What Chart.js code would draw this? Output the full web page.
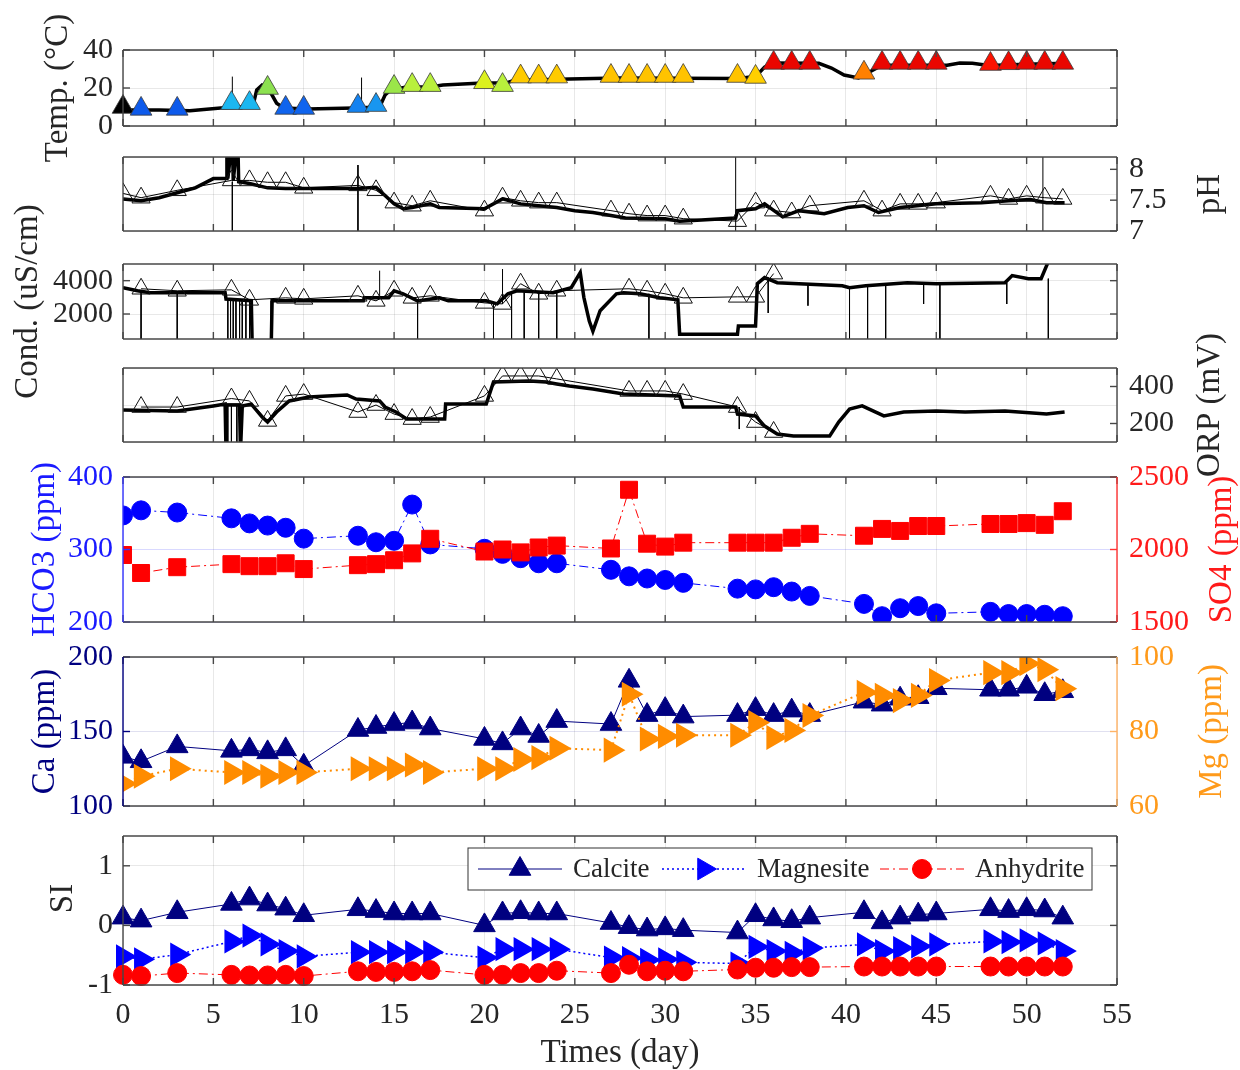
<!DOCTYPE html>
<html>
<head>
<meta charset="utf-8">
<title>Monitoring well - field and lab data</title>
<script src="https://cdn.jsdelivr.net/npm/chart.js@4.4.1/dist/chart.umd.min.js"></script>
<style>
  body { margin: 0; background: #fff; }
  #panels { position: relative; width: 1240px; height: 1070px; }
  #panels canvas { position: absolute; left: 0; top: 0; }
</style>
</head>
<body>
<div id="panels">
  <canvas id="tempChart" width="1240" height="1070"></canvas>
  <canvas id="phChart" width="1240" height="1070"></canvas>
  <canvas id="condChart" width="1240" height="1070"></canvas>
  <canvas id="orpChart" width="1240" height="1070"></canvas>
  <canvas id="ionChart" width="1240" height="1070"></canvas>
  <canvas id="caMgChart" width="1240" height="1070"></canvas>
  <canvas id="siChart" width="1240" height="1070"></canvas>
</div>
<script>
// grab-sample days
var days = [0,1,3,6,7,8,9,10,13,14,15,16,17,20,21,22,23,24,27,28,29,30,31,34,35,36,37,38,41,42,43,44,45,48,49,50,51,52];

// temperature: samples, logger trace, logger glitches
var tempSample = [10,9,9,12,12,20,9.5,9.5,10.5,11,20.5,21.5,21.5,23,21.5,26,26,26,26.3,26.3,26.3,26.3,26.3,26.3,25.8,33.2,33.2,33.2,28,33.2,33.2,33.2,33.2,32.6,33,33.2,33.2,33.2];
var tempLogDay = [0,2,3.7,5.4,6.3,7.2,7.4,7.7,8.0,8.5,8.9,10.2,12.8,14.2,14.5,14.8,15.7,17.0,17.7,19.9,21.2,21.6,24.7,27.4,34.0,35.0,35.5,35.9,38.5,39.2,39.9,40.7,41.3,42.0,45.6,46.3,47.0,47.9,50.0,52.2];
var tempLogVal = [8.4,8.4,8.0,9.5,9.8,11,19,21.6,20.5,12,9.5,8.9,9.5,10,16.3,19,20.5,20.5,21.6,22.6,22.6,24,24.7,25.3,25,26,31,33.2,33,30.5,26.8,25.3,28.4,32,32,33.2,33,31.8,32.5,33];
var tempSpikeDay = [6.05, 13.2];
var tempSpikeFrom = [9, 9];
var tempSpikeTo = [26, 25.5];

// pH
var phSample = [7.61,7.54,7.66,7.82,7.82,7.79,7.79,7.7,7.74,7.66,7.46,7.41,7.49,7.33,7.54,7.49,7.46,7.46,7.33,7.28,7.25,7.25,7.2,7.16,7.46,7.33,7.3,7.41,7.49,7.33,7.44,7.44,7.46,7.57,7.52,7.57,7.54,7.52];
var phLogDay = [0,1,2,3,4,5,5.5,5.7,5.75,5.8,6.05,6.1,6.35,6.4,7,8,9,10,13,14,15,15.5,16,17,17.5,20,21,22,23,24,25,26,27,27.8,30,30.8,33.9,34,35,35.5,36.5,37.4,38.8,40.1,41,41.8,43,45,47.5,49,50.2,51.1,52.1];
var phLogVal = [7.52,7.49,7.54,7.62,7.7,7.85,7.85,7.85,8.5,7.85,8.5,7.82,8.5,7.8,7.77,7.7,7.69,7.69,7.69,7.71,7.44,7.36,7.38,7.44,7.38,7.36,7.52,7.44,7.41,7.38,7.33,7.3,7.25,7.21,7.2,7.16,7.21,7.33,7.36,7.44,7.23,7.33,7.28,7.38,7.41,7.3,7.38,7.44,7.46,7.49,7.51,7.46,7.46];
var phSpikeDay = [6.05, 13, 33.9, 50.9];
var phSpikeFrom = [7.8, 8.07, 6.5, 6.5];
var phSpikeTo = [6.5, 6.9, 9, 9];

// electrical conductivity (uS/cm)
var condSample = [null,3515,3394,3450,2850,null,2970,2909,3091,2788,3394,2970,3091,2667,2606,3818,3212,3394,null,3515,3394,3212,2970,3030,3030,4424,null,null,null,null,null,null,null,null,null,null,null,null];
var condLogDay = [0,0.8,1.5,5.65,5.7,7.1,7.15,8.2,8.25,13.3,13.35,14.7,15,15.5,16.3,17.5,18,20.1,20.7,21.3,21.8,23.8,24.8,25.3,25.5,25.8,26,26.4,27.3,27.7,28.6,29.7,30.7,30.8,34,34.05,35,35.1,35.5,36.2,39.8,40.2,41.1,43.4,45,48.8,49.2,50.1,50.8,51.3];
var condLogVal = [3576,3394,3273,3273,2900,2800,0,0,2788,2788,2970,2970,3394,3212,2788,2970,2788,2788,2606,3212,3394,3273,3576,4485,3000,1576,970,2200,3212,3273,3212,2970,2848,788,788,1273,1273,3818,4182,3879,3697,3576,3697,3879,3818,3879,4303,4121,4121,5400];
var condSpikeDay  = [1,3,5.8,5.95,6.1,6.25,6.45,6.6,6.8,7.0,8.2,14.2,16.3,20.5,21,21.5,22.2,23,24,29.1,35.7,37.9,40.2,41.2,42.2,44.3,45.2,48.9,51.2];
var condSpikeFrom = [3400,3270,2900,2900,2900,2850,2850,2800,2800,2800,2788,2970,2800,2700,2606,3200,3300,3300,3300,3212,4182,3800,3600,3700,3750,3850,3800,3880,4121];
var condSpikeTo   = [0,0,0,0,0,0,0,0,0,0,0,4600,0,0,4700,0,0,0,0,0,2060,2500,0,0,0,2600,0,2600,0];

// redox potential (mV)
var orpSample = [null,289,289,335,322,214,349,359,262,300,251,224,235,349,457,457,457,441,null,376,376,376,359,289,208,154,null,null,null,null,null,null,null,null,null,null,null,null];
var orpLogDay = [0,3,5,5.65,5.7,5.75,6.45,6.5,6.6,7.1,7.7,8.0,8.5,9.2,10.3,11.3,12.4,12.9,14.2,14.5,15.1,15.7,17.8,17.85,20.1,20.5,22.5,23.4,24,24.7,26,27.7,30.8,31,33.9,34,35,35.5,36.2,37.1,39.1,39.6,40.2,40.9,42.1,43.2,45,46.6,48.8,51.1,52.1];
var orpLogVal = [273,268,295,305,50,300,300,50,295,305,235,208,262,322,343,349,354,332,322,289,262,224,224,305,305,424,430,424,414,403,386,359,349,289,289,251,241,186,143,132,132,208,278,295,241,262,268,262,268,251,262];
var orpSpikeDay = [6.0, 6.3, 34.1];
var orpSpikeFrom = [300, 300, 289];
var orpSpikeTo = [50, 50, 170];

// lab chemistry (ppm)
var hco3 = [347,354,351,343,336,333,330,315,319,310,312,362,307,301,294,288,281,281,272,263,260,258,254,246,245,248,242,236,225,208,219,222,212,214,211,211,210,208];
var so4 = [1962,1838,1878,1899,1885,1885,1905,1865,1892,1899,1926,1973,2074,1986,2000,1980,2014,2027,2007,2412,2040,2020,2047,2047,2047,2047,2081,2108,2095,2142,2128,2162,2162,2176,2176,2182,2170,2264];
var ca = [133,130,140,137,138,136,138,127,151,153,155,156,152,145,142,152,147,157,155,184,161,165,160,161,165,161,164,161,170,168,172,173,179,178,178,180,175,177];
var mg = [66,68,70,69,69,68,69,69,70,70,70,71,69,70,70,72.5,73,75.5,75,90,78,78.7,79,79,82.4,78.4,80.3,84.3,90.5,89.7,88.3,89.7,93.7,95.8,95.8,98.2,96.6,91.5];

// saturation indices
var siCalcite = [0.13,0.08,0.22,0.36,0.45,0.35,0.28,0.17,0.27,0.24,0.2,0.2,0.2,0.0,0.2,0.22,0.2,0.2,0.04,-0.03,-0.07,-0.05,-0.08,-0.12,0.17,0.1,0.07,0.13,0.22,0.05,0.13,0.18,0.2,0.27,0.24,0.27,0.25,0.13];
var siMagnesite = [-0.52,-0.57,-0.49,-0.27,-0.17,-0.32,-0.43,-0.52,-0.45,-0.45,-0.45,-0.45,-0.45,-0.54,-0.4,-0.4,-0.4,-0.4,-0.54,-0.55,-0.58,-0.57,-0.62,-0.64,-0.36,-0.43,-0.46,-0.38,-0.32,-0.43,-0.38,-0.35,-0.32,-0.27,-0.28,-0.25,-0.3,-0.43];
var siAnhydrite = [-0.83,-0.85,-0.8,-0.83,-0.84,-0.84,-0.83,-0.85,-0.77,-0.78,-0.78,-0.77,-0.75,-0.83,-0.83,-0.8,-0.8,-0.76,-0.8,-0.66,-0.77,-0.76,-0.77,-0.74,-0.71,-0.71,-0.7,-0.7,-0.69,-0.69,-0.69,-0.69,-0.69,-0.69,-0.69,-0.69,-0.69,-0.69];

var xTicks = [0,5,10,15,20,25,30,35,40,45,50,55];

Chart.defaults.font.family = '"Liberation Serif", "Times New Roman", serif';
Chart.defaults.color = '#262626';
Chart.defaults.animation = false;

var FRAME = '#474747';
var TICK_FONT = { size: 30 };
var TITLE_FONT = '33px "Liberation Serif", "Times New Roman", serif';
var GRID = 'rgba(0,0,0,0.09)';

// colour ramp for the temperature markers
var tempStops = [
  [8, [10, 70, 230]], [10, [16, 110, 240]], [11, [24, 150, 240]], [12.5, [30, 200, 240]],
  [20, [140, 225, 80]], [21.5, [185, 240, 60]], [23, [220, 240, 30]], [25.5, [255, 215, 0]],
  [26.5, [255, 190, 0]], [28, [255, 128, 0]], [32.5, [255, 20, 0]], [33.5, [225, 0, 0]]
];
function tempColour(t) {
  for (var i = 1; i < tempStops.length; i++) {
    if (t <= tempStops[i][0]) {
      var a = tempStops[i - 1], b = tempStops[i];
      var f = Math.max(0, (t - a[0]) / (b[0] - a[0]));
      var c = a[1].map(function (v, k) { return Math.round(v + (b[1][k] - v) * f); });
      return 'rgb(' + c.join(',') + ')';
    }
  }
  return 'rgb(' + tempStops[tempStops.length - 1][1].join(',') + ')';
}

function xy(xs, ys) {
  return xs.map(function (x, i) { return { x: x, y: ys[i] }; });
}

// each glitch is a vertical stroke, separated by a gap
function spikes(ds, from, to) {
  var out = [];
  ds.forEach(function (d, i) {
    out.push({ x: d, y: from[i] }, { x: d, y: to[i] }, { x: d, y: null });
  });
  return out;
}

function xAxis(withLabels) {
  return {
    type: 'linear', min: 0, max: 55,
    afterBuildTicks: function (s) { s.ticks = xTicks.map(function (v) { return { value: v }; }); },
    afterFit: function (s) { s.height = withLabels ? 85 : 0; },
    ticks: { display: withLabels, font: TICK_FONT, padding: 12, maxRotation: 0, autoSkip: false,
             callback: function (v) { return String(v); } },
    grid: { color: GRID, drawTicks: false },
    border: { display: false },
    title: { display: withLabels, text: 'Times (day)', font: { size: 33, lineHeight: 1 },
             padding: { top: 0, bottom: 0 } }
  };
}

function yAxis(pos, min, max, tickVals, o) {
  o = o || {};
  return {
    type: 'linear', position: pos, min: min, max: max,
    afterBuildTicks: function (s) { s.ticks = tickVals.map(function (v) { return { value: v }; }); },
    afterFit: function (s) { s.width = 123; },
    ticks: { display: !!o.labels, color: o.color || '#262626', font: TICK_FONT, autoSkip: false,
             padding: pos === 'left' ? 10 : 12, callback: function (v) { return String(v); } },
    grid: { display: !!o.grid, color: o.grid || GRID, drawTicks: false },
    border: { display: false }
  };
}

// box around each axes with inward tick marks
var boxFrame = {
  id: 'boxFrame',
  afterDatasetsDraw: function (chart, args, o) {
    var a = chart.chartArea, ctx = chart.ctx, sx = chart.scales.x, L = 7;
    function seg(x1, y1, x2, y2, c) {
      ctx.strokeStyle = c;
      ctx.beginPath(); ctx.moveTo(x1, y1); ctx.lineTo(x2, y2); ctx.stroke();
    }
    ctx.save();
    ctx.lineWidth = 1.4;
    sx.ticks.forEach(function (t) {
      var px = sx.getPixelForValue(t.value);
      seg(px, a.top, px, a.top + L, FRAME);
      seg(px, a.bottom, px, a.bottom - L, FRAME);
    });
    if (o.left) {
      var sl = chart.scales[o.left];
      sl.ticks.forEach(function (t) {
        var py = sl.getPixelForValue(t.value);
        seg(a.left, py, a.left + L, py, o.leftColor || FRAME);
      });
    }
    if (o.right) {
      var sr = chart.scales[o.right];
      sr.ticks.forEach(function (t) {
        var py = sr.getPixelForValue(t.value);
        seg(a.right, py, a.right - L, py, o.rightColor || FRAME);
      });
    }
    seg(a.left, a.top, a.right, a.top, FRAME);
    seg(a.left, a.bottom, a.right, a.bottom, FRAME);
    seg(a.left, a.top, a.left, a.bottom, o.leftColor || FRAME);
    seg(a.right, a.top, a.right, a.bottom, o.rightColor || FRAME);
    ctx.restore();
  }
};

// y-axis labels, written bottom-to-top on both sides
var sideTitles = {
  id: 'sideTitles',
  afterDraw: function (chart, args, o) {
    var a = chart.chartArea, ctx = chart.ctx;
    (o.items || []).forEach(function (it) {
      ctx.save();
      ctx.translate(it.x, (a.top + a.bottom) / 2 + (it.dy || 0));
      ctx.rotate(-Math.PI / 2);
      ctx.font = TITLE_FONT;
      ctx.fillStyle = it.color || '#262626';
      ctx.textAlign = 'center';
      ctx.textBaseline = 'middle';
      ctx.fillText(it.text, 0, 0);
      ctx.restore();
    });
  }
};

// boxed legend inside the SI axes: line + marker + name
var siLegend = {
  id: 'siLegend',
  afterDatasetsDraw: function (chart, args, o) {
    if (!o.w) return;
    var ctx = chart.ctx, a = chart.chartArea;
    var x0 = a.left + o.dx, y0 = a.top + o.dy, cy = y0 + o.h / 2;
    ctx.save();
    ctx.fillStyle = '#fff';
    ctx.fillRect(x0, y0, o.w, o.h);
    ctx.strokeStyle = '#333';
    ctx.lineWidth = 1;
    ctx.strokeRect(x0, y0, o.w, o.h);
    chart.data.datasets.forEach(function (ds, i) {
      var lx = x0 + o.itemX[i];
      ctx.strokeStyle = ds.borderColor;
      ctx.lineWidth = ds.borderWidth;
      ctx.setLineDash(ds.borderDash || []);
      ctx.beginPath(); ctx.moveTo(lx, cy); ctx.lineTo(lx + 84, cy); ctx.stroke();
      ctx.setLineDash([]);
      ctx.fillStyle = ds.pointBackgroundColor;
      ctx.strokeStyle = ds.pointBorderColor;
      ctx.lineWidth = 1;
      Chart.helpers.drawPoint(ctx, { pointStyle: ds.pointStyle, rotation: ds.pointRotation || 0,
        radius: ds.pointRadius, borderWidth: 1 }, lx + 42, cy);
      ctx.fillStyle = '#262626';
      ctx.font = '27px "Liberation Serif", "Times New Roman", serif';
      ctx.textAlign = 'left';
      ctx.textBaseline = 'middle';
      ctx.fillText(ds.label, lx + 95, cy + 1);
    });
    ctx.restore();
  }
};

function makePanel(id, padTop, padBottom, scales, datasets, frame, titles, legend) {
  return new Chart(document.getElementById(id), {
    type: 'line',
    data: { datasets: datasets },
    options: {
      responsive: false,
      animation: false,
      layout: { padding: { top: padTop, bottom: padBottom, left: 0, right: 0 } },
      scales: scales,
      elements: { line: { tension: 0 } },
      plugins: {
        legend: { display: false },
        tooltip: { enabled: false },
        boxFrame: frame,
        sideTitles: { items: titles },
        siLegend: legend || {}
      }
    },
    plugins: [boxFrame, sideTitles, siLegend]
  });
}

function loggerLine(data, axis) {
  return { data: data, borderColor: '#000', borderWidth: 3.5, pointRadius: 0, yAxisID: axis, order: 1 };
}
function glitchLine(data, axis) {
  return { data: data, borderColor: '#000', borderWidth: 1, pointRadius: 0, spanGaps: false, yAxisID: axis, order: 2 };
}
function openTriangles(data, axis) {
  return { data: data, borderColor: '#000', borderWidth: 1, spanGaps: true, pointStyle: 'triangle',
           pointRadius: 10.5, pointBackgroundColor: 'rgba(0,0,0,0)', pointBorderColor: '#111',
           pointBorderWidth: 1, yAxisID: axis, order: 0 };
}

// --- temperature
makePanel('tempChart', 50, 944, {
  x: xAxis(false),
  y: yAxis('left', 0, 40, [0, 20, 40], { labels: true, grid: GRID }),
  y1: yAxis('right', 0, 40, [0, 20, 40])
}, [
  loggerLine(xy(tempLogDay, tempLogVal), 'y'),
  glitchLine(spikes(tempSpikeDay, tempSpikeFrom, tempSpikeTo), 'y'),
  { data: xy(days, tempSample), showLine: false, pointStyle: 'triangle', pointRadius: 12.5,
    pointBackgroundColor: function (c) { return c.dataIndex === 0 ? '#000' : tempColour(c.raw.y); },
    pointBorderColor: '#3a3a3a', pointBorderWidth: 0.8, yAxisID: 'y', order: 0, clip: false }
], { left: 'y', right: 'y1' }, [{ text: 'Temp. (°C)', x: 58 }]);

// --- pH
makePanel('phChart', 157, 839, {
  x: xAxis(false),
  y: yAxis('left', 0, 1, [0, 0.5, 1], { grid: GRID }),
  y1: yAxis('right', 7, 8.2, [7, 7.5, 8], { labels: true })
}, [
  loggerLine(xy(phLogDay, phLogVal), 'y1'),
  glitchLine(spikes(phSpikeDay, phSpikeFrom, phSpikeTo), 'y1'),
  openTriangles(xy(days, phSample), 'y1')
], { left: null, right: 'y1' }, [{ text: 'pH', x: 1210 }]);

// --- conductivity
makePanel('condChart', 264, 731, {
  x: xAxis(false),
  y: yAxis('left', 500, 5000, [2000, 4000], { labels: true, grid: GRID }),
  y1: yAxis('right', 500, 5000, [2000, 4000])
}, [
  loggerLine(xy(condLogDay, condLogVal), 'y'),
  glitchLine(spikes(condSpikeDay, condSpikeFrom, condSpikeTo), 'y'),
  openTriangles(xy(days, condSample), 'y')
], { left: 'y', right: 'y1' }, [{ text: 'Cond. (uS/cm)', x: 28 }]);

// --- ORP
makePanel('orpChart', 368, 628, {
  x: xAxis(false),
  y: yAxis('left', 0, 1, [0, 0.5, 1], { grid: GRID }),
  y1: yAxis('right', 100, 500, [200, 400], { labels: true })
}, [
  loggerLine(xy(orpLogDay, orpLogVal), 'y1'),
  glitchLine(spikes(orpSpikeDay, orpSpikeFrom, orpSpikeTo), 'y1'),
  openTriangles(xy(days, orpSample), 'y1')
], { left: null, right: 'y1' }, [{ text: 'ORP (mV)', x: 1210 }]);

// --- HCO3 / SO4
makePanel('ionChart', 477, 448, {
  x: xAxis(false),
  y: yAxis('left', 200, 400, [200, 300, 400], { labels: true, color: '#1a1aff', grid: 'rgba(0,0,255,0.15)' }),
  y1: yAxis('right', 1500, 2500, [1500, 2000, 2500], { labels: true, color: '#ff1a1a' })
}, [
  { data: xy(days, hco3), borderColor: '#0000ff', borderWidth: 1, borderDash: [9, 4, 2, 4],
    pointStyle: 'circle', pointRadius: 9.5, pointBackgroundColor: '#0000ff', pointBorderColor: '#0000ff',
    yAxisID: 'y', order: 1, clip: 0 },
  { data: xy(days, so4), borderColor: '#ff0000', borderWidth: 1, borderDash: [9, 4, 2, 4],
    pointStyle: 'rect', pointRadius: 12, pointBackgroundColor: '#ff0000', pointBorderColor: '#ff0000',
    yAxisID: 'y1', order: 0, clip: 0 }
], { left: 'y', right: 'y1', leftColor: '#3333ff', rightColor: '#ff3333' },
  [{ text: 'HCO3 (ppm)', x: 45, color: '#1a1aff' }, { text: 'SO4 (ppm)', x: 1222, color: '#ff1a1a' }]);

// --- Ca / Mg
makePanel('caMgChart', 657, 264, {
  x: xAxis(false),
  y: yAxis('left', 100, 200, [100, 150, 200], { labels: true, color: '#000080', grid: 'rgba(0,0,128,0.12)' }),
  y1: yAxis('right', 60, 100, [60, 80, 100], { labels: true, color: '#ff9a1a' })
}, [
  { data: xy(days, ca), borderColor: '#000080', borderWidth: 1,
    pointStyle: 'triangle', pointRadius: 12.5, pointBackgroundColor: '#000080', pointBorderColor: '#000080',
    yAxisID: 'y', order: 1, clip: 0 },
  { data: xy(days, mg), borderColor: '#ff8c00', borderWidth: 2, borderDash: [2, 4],
    pointStyle: 'triangle', pointRotation: 90, pointRadius: 12.5, pointBackgroundColor: '#ff8c00',
    pointBorderColor: '#ff8c00', yAxisID: 'y1', order: 0, clip: 0 }
], { left: 'y', right: 'y1', leftColor: '#000080', rightColor: '#ffb366' },
  [{ text: 'Ca (ppm)', x: 45, color: '#000080' }, { text: 'Mg (ppm)', x: 1212, color: '#ff9a1a' }]);

// --- saturation indices
makePanel('siChart', 836, 0, {
  x: xAxis(true),
  y: yAxis('left', -1, 1.5, [-1, 0, 1], { labels: true, grid: GRID }),
  y1: yAxis('right', -1, 1.5, [-1, 0, 1])
}, [
  { label: 'Calcite', data: xy(days, siCalcite), borderColor: '#000080', borderWidth: 1,
    pointStyle: 'triangle', pointRadius: 12.5, pointBackgroundColor: '#000080', pointBorderColor: '#000080',
    yAxisID: 'y', order: 2, clip: false },
  { label: 'Magnesite', data: xy(days, siMagnesite), borderColor: '#0000ff', borderWidth: 1.5, borderDash: [2, 3],
    pointStyle: 'triangle', pointRotation: 90, pointRadius: 12.5, pointBackgroundColor: '#0000ff',
    pointBorderColor: '#0000ff', yAxisID: 'y', order: 1, clip: false },
  { label: 'Anhydrite', data: xy(days, siAnhydrite), borderColor: '#ff0000', borderWidth: 1, borderDash: [9, 4, 2, 4],
    pointStyle: 'circle', pointRadius: 9.5, pointBackgroundColor: '#ff0000', pointBorderColor: '#ff0000',
    yAxisID: 'y', order: 0, clip: false }
], { left: 'y', right: 'y1' }, [{ text: 'SI', x: 63, dy: -12 }],
  { dx: 345, dy: 12, w: 624, h: 42, itemX: [10, 194, 412] });
</script>
</body>
</html>
